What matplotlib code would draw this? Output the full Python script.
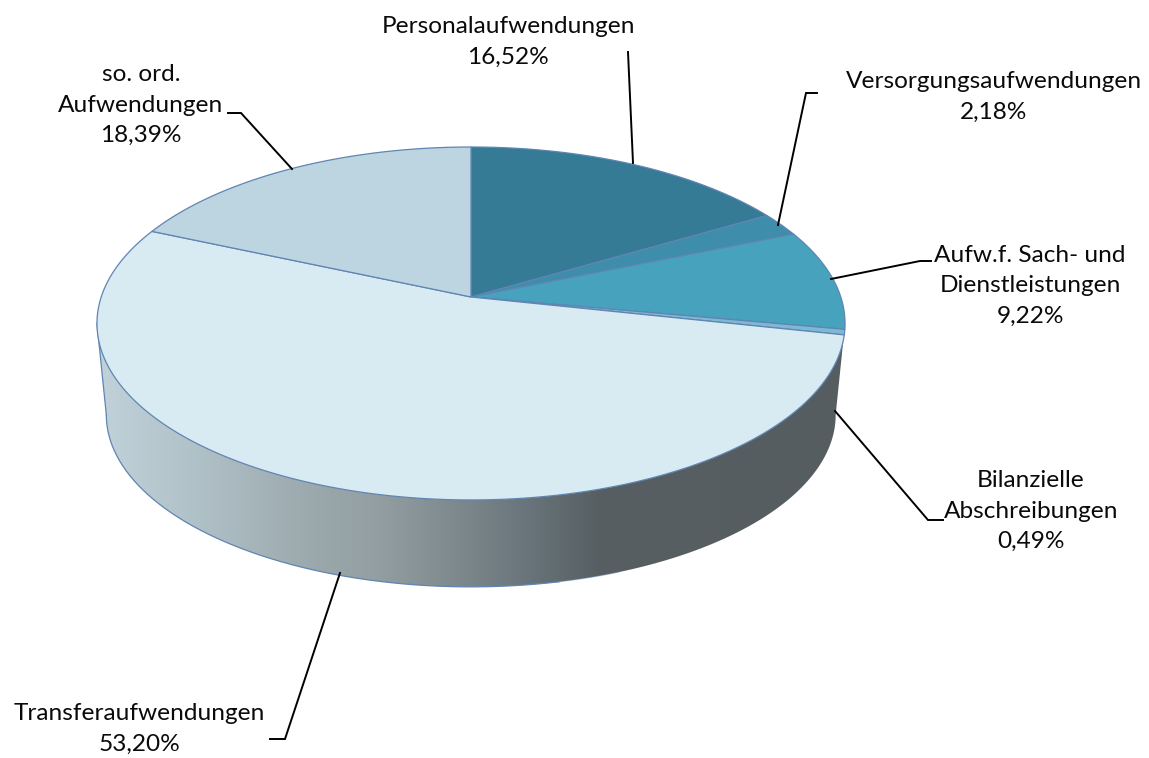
import numpy as np
import matplotlib
matplotlib.use("Agg")
import matplotlib.pyplot as plt
from matplotlib.patches import Polygon

plt.rcParams['font.family'] = ['Lato', 'DejaVu Sans']

categories = ["Personalaufwendungen", "Versorgungsaufwendungen",
              "Aufw.f. Sach- und\nDienstleistungen", "Bilanzielle\nAbschreibungen",
              "Transferaufwendungen", "so. ord.\nAufwendungen"]
shares = [16.52, 2.18, 9.22, 0.49, 53.20, 18.39]
colors = ["#357b95", "#3e8dab", "#46a2bd", "#7db9d2", "#d8eaf2", "#bcd5e0"]
label_pos = [(508, 42), (994, 97), (1030, 286), (1031, 511), (139, 729), (141, 105)]
leaders = [[(628, 52), (633, 163)],
           [(817, 93), (806, 93), (778, 225)],
           [(831, 279), (920, 261), (931, 261)],
           [(835, 411), (928, 520), (943, 520)],
           [(340, 573), (285, 739), (270, 739)],
           [(228, 113), (241, 113), (292, 169)]]

W, H = 1149, 758
CX, CY = 471, 297
A, B, WX = 172.5, 0.15, 369.8
SCALE, DROP = 0.975, 92
EDGE = "#5f85b3"


def project(theta):
    den = 1 + B * np.cos(theta)
    return WX * np.sin(theta) / den, -A * np.cos(theta) / den


def top(theta):
    x, y = project(theta)
    return np.column_stack([CX + x, CY + y])


def bottom(theta):
    x, y = project(theta)
    return np.column_stack([CX + x * SCALE, CY + y * SCALE + DROP])


fig = plt.figure(figsize=(W / 100, H / 100), dpi=100)
ax = fig.add_axes([0, 0, 1, 1])
ax.set_xlim(0, W)
ax.set_ylim(H, 0)
ax.axis("off")

# side wall
t0 = np.arccos(-B)
front = np.linspace(t0, 2 * np.pi - t0, 400)
wall_pts = np.vstack([top(front), bottom(front)[::-1]])
wall = Polygon(wall_pts, closed=True, fc="none", ec="none")
ax.add_patch(wall)
stops_x = [97, 200, 330, 380, 463, 530, 597, 845]
stops_r = [0xc2, 0xb0, 0x98, 0x92, 0x7b, 0x68, 0x57, 0x56]
stops_g = [0xd2, 0xc0, 0xa5, 0x9e, 0x87, 0x74, 0x5f, 0x5d]
stops_b = [0xda, 0xc7, 0xa9, 0xa2, 0x8b, 0x7a, 0x62, 0x60]
xs = np.arange(90, 850)
grad = np.stack([np.interp(xs, stops_x, s) / 255 for s in (stops_r, stops_g, stops_b)], axis=-1)[None, :, :]
im = ax.imshow(grad, extent=[90, 850, 600, 300], aspect="auto", zorder=1, interpolation="bilinear")
im.set_clip_path(wall)
ax.set_xlim(0, W)
ax.set_ylim(H, 0)
# wall outline: the blue edge fades out under the dark part of the wall
bot = bottom(front)
ax.plot(*bot[bot[:, 0] < 560].T, color=EDGE, lw=0.9, zorder=2)
ax.plot(*bot[(bot[:, 0] >= 555) & (bot[:, 0] < 620)].T, color=EDGE, lw=0.9, alpha=0.4, zorder=2)
ax.plot(*np.vstack([top(front[-1:]), bottom(front[-1:])]).T, color=EDGE, lw=0.9, zorder=2)

# top surface
edges = 2 * np.pi * np.cumsum([0] + shares) / sum(shares)
for a0, a1, c in zip(edges[:-1], edges[1:], colors):
    th = np.linspace(a0, a1, max(int((a1 - a0) * 80), 4))
    pts = np.vstack([[CX, CY], top(th)])
    ax.add_patch(Polygon(pts, closed=True, fc=c, ec=EDGE, lw=0.9, zorder=3, joinstyle="round"))

# labels and leaders
for name, val, (lx, ly), seg in zip(categories, shares, label_pos, leaders):
    txt = name + "\n" + f"{val:.2f}".replace(".", ",") + "%"
    ax.text(lx, ly, txt, ha="center", va="center", fontsize=17.6, color="#0a0a0a",
            linespacing=1.57, zorder=5)
    ax.plot(*zip(*seg), color="black", lw=1.4, zorder=4, solid_joinstyle="miter")

fig.savefig("out.png", dpi=100, facecolor="white")
